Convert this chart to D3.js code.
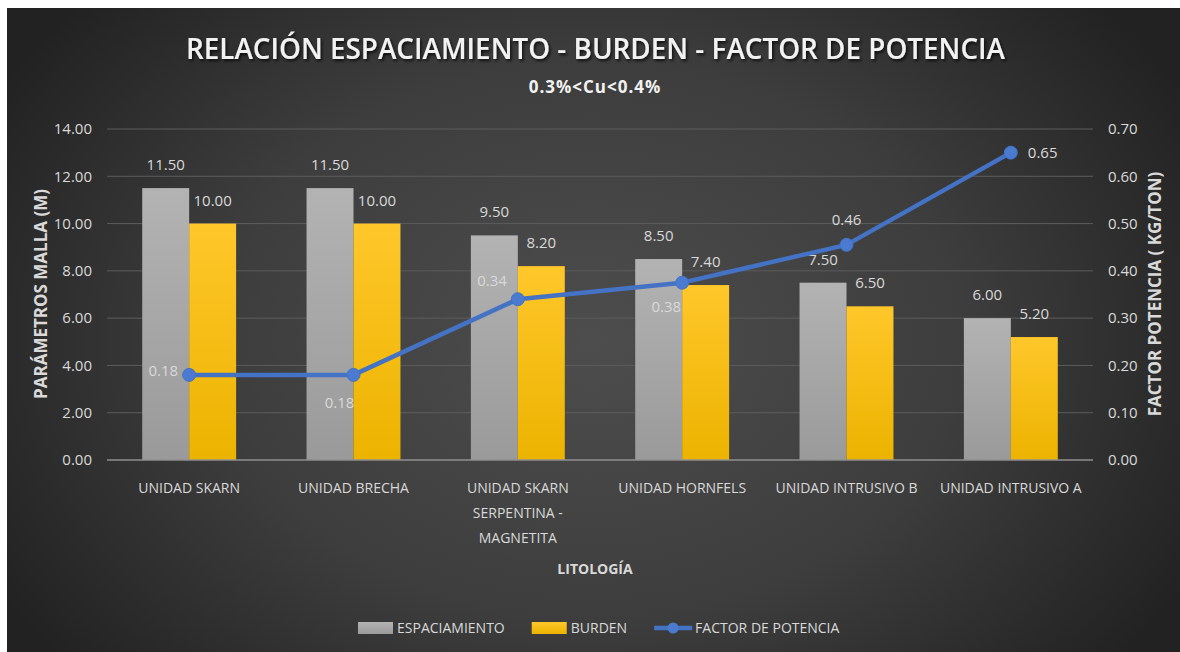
<!DOCTYPE html>
<html><head><meta charset="utf-8">
<script src="https://cdn.jsdelivr.net/npm/d3@7"></script>
<style>body{margin:0;background:#fff;overflow:hidden}</style>
</head><body>
<svg id="chart" width="1180" height="652"></svg>
<script>
// ---- data ----
const categories = ["UNIDAD SKARN", "UNIDAD BRECHA", "UNIDAD SKARN SERPENTINA - MAGNETITA", "UNIDAD HORNFELS", "UNIDAD INTRUSIVO B", "UNIDAD INTRUSIVO A"];
const espaciamiento = [11.5, 11.5, 9.5, 8.5, 7.5, 6.0];
const burden = [10.0, 10.0, 8.2, 7.4, 6.5, 5.2];
const factorPotencia = [0.18, 0.18, 0.34, 0.375, 0.455, 0.65];
const leftTicks = [0, 2, 4, 6, 8, 10, 12, 14];
const rightTicks = [0, 0.1, 0.2, 0.3, 0.4, 0.5, 0.6, 0.7];
const seriesNames = ["ESPACIAMIENTO", "BURDEN", "FACTOR DE POTENCIA"];
const titleText = "RELACIÓN ESPACIAMIENTO - BURDEN - FACTOR DE POTENCIA";
const subtitleText = "0.3%<Cu<0.4%";
const xTitle = "LITOLOGÍA";
const yLeftTitle = "PARÁMETROS MALLA (M)";
const yRightTitle = "FACTOR POTENCIA ( KG/TON)";
// label placement for the line's data labels (style)
const lineLabelPos = ["left", "below", "aboveLeft", "belowLeft", "above", "right"];

// ---- layout ----
const svg = d3.select("#chart");
const W = 1180, H = 652;
const plot = {left: 107, right: 1093, top: 129, bottom: 460};
const FONT = "'Open Sans', 'Liberation Sans', sans-serif";
const TXT = "#d9d9d9";

const defs = svg.append("defs");
const bg = defs.append("radialGradient").attr("id", "bg")
  .attr("gradientUnits", "userSpaceOnUse").attr("cx", 590).attr("cy", 340).attr("r", 680)
  .attr("gradientTransform", "translate(590,340) scale(1,0.75) translate(-590,-340)");
bg.append("stop").attr("offset", "0").attr("stop-color", "#4d4d4d");
bg.append("stop").attr("offset", "0.55").attr("stop-color", "#3d3d3d");
bg.append("stop").attr("offset", "1").attr("stop-color", "#222222");

const gGray = defs.append("linearGradient").attr("id", "gGray").attr("x1", 0).attr("y1", 0).attr("x2", 0).attr("y2", 1);
gGray.append("stop").attr("offset", "0").attr("stop-color", "#b3b3b3");
gGray.append("stop").attr("offset", "1").attr("stop-color", "#9a9a9a");
const gYel = defs.append("linearGradient").attr("id", "gYel").attr("x1", 0).attr("y1", 0).attr("x2", 0).attr("y2", 1);
gYel.append("stop").attr("offset", "0").attr("stop-color", "#ffc72a");
gYel.append("stop").attr("offset", "1").attr("stop-color", "#ecb300");

const sh = defs.append("filter").attr("id", "shadow").attr("x", "-5%").attr("y", "-30%").attr("width", "110%").attr("height", "160%");
sh.append("feDropShadow").attr("dx", 1.5).attr("dy", 2).attr("stdDeviation", 1.5).attr("flood-color", "#000").attr("flood-opacity", 0.75);

svg.append("rect").attr("x", 7).attr("y", 8).attr("width", W - 7).attr("height", H - 8).attr("fill", "url(#bg)");

// scales
const x = d3.scaleBand().domain(categories).range([plot.left, plot.right]).paddingInner(0).paddingOuter(0);
const x1 = d3.scaleBand().domain(seriesNames.slice(0, 2)).range([0, x.bandwidth()]).paddingInner(0).paddingOuter(0.75);
const yL = d3.scaleLinear().domain([0, 14]).range([plot.bottom, plot.top]);
const yR = d3.scaleLinear().domain([0, 0.7]).range([plot.bottom, plot.top]);

// gridlines
svg.append("g").selectAll("line").data(leftTicks.filter(d => d > 0)).join("line")
  .attr("x1", plot.left).attr("x2", plot.right)
  .attr("y1", d => yL(d)).attr("y2", d => yL(d))
  .attr("stroke", "#5c5c5c").attr("stroke-width", 1);

// left axis
const axL = svg.append("g").attr("transform", `translate(${plot.left},0)`)
  .call(d3.axisLeft(yL).tickValues(leftTicks).tickFormat(d3.format(".2f")).tickSize(0).tickPadding(15));
axL.select(".domain").remove();
axL.selectAll("text").attr("fill", TXT).attr("font-family", FONT).attr("font-size", 15);

// right axis
const axR = svg.append("g").attr("transform", `translate(${plot.right},0)`)
  .call(d3.axisRight(yR).tickValues(rightTicks).tickFormat(d3.format(".2f")).tickSize(0).tickPadding(15));
axR.select(".domain").remove();
axR.selectAll("text").attr("fill", TXT).attr("font-family", FONT).attr("font-size", 15);

// bars
const series = [
  {name: seriesNames[0], values: espaciamiento, fill: "url(#gGray)"},
  {name: seriesNames[1], values: burden, fill: "url(#gYel)"}
];
const barG = svg.append("g");
series.forEach(s => {
  barG.append("g").selectAll("rect").data(categories).join("rect")
    .attr("x", (c) => x(c) + x1(s.name))
    .attr("width", x1.bandwidth())
    .attr("y", (c, i) => yL(s.values[i]))
    .attr("height", (c, i) => yL(0) - yL(s.values[i]))
    .attr("fill", s.fill);
  barG.append("g").selectAll("text").data(categories).join("text")
    .attr("x", (c) => x(c) + x1(s.name) + x1.bandwidth() / 2)
    .attr("y", (c, i) => yL(s.values[i]) - 18)
    .attr("text-anchor", "middle")
    .attr("fill", TXT).attr("font-family", FONT).attr("font-size", 15)
    .text((c, i) => s.values[i].toFixed(2));
});

// baseline
svg.append("line").attr("x1", plot.left).attr("x2", plot.right)
  .attr("y1", yL(0)).attr("y2", yL(0)).attr("stroke", "#8f8f8f").attr("stroke-width", 1.5);

// category labels (wrapped)
function wrap(text, maxW) {
  const words = text.split(" ");
  const lines = [];
  let cur = "";
  const meas = svg.append("text").attr("font-family", FONT).attr("font-size", 14);
  words.forEach(w => {
    const t = cur ? cur + " " + w : w;
    meas.text(t);
    if (meas.node().getComputedTextLength() > maxW && cur) { lines.push(cur); cur = w; }
    else cur = t;
  });
  if (cur) lines.push(cur);
  meas.remove();
  return lines;
}
const catG = svg.append("g");
categories.forEach(c => {
  const lines = wrap(c, 150);
  const t = catG.append("text").attr("text-anchor", "middle")
    .attr("fill", TXT).attr("font-family", FONT).attr("font-size", 14);
  lines.forEach((ln, k) => {
    t.append("tspan").attr("x", x(c) + x.bandwidth() / 2).attr("y", 493 + k * 25).text(ln);
  });
});

// line series
const cx = (c) => x(c) + x.bandwidth() / 2;
const line = d3.line().x((d, i) => cx(categories[i])).y(d => yR(d));
svg.append("path").datum(factorPotencia).attr("d", line)
  .attr("fill", "none").attr("stroke", "#4472c4").attr("stroke-width", 4.5).attr("stroke-linejoin", "round");
svg.append("g").selectAll("circle").data(factorPotencia).join("circle")
  .attr("cx", (d, i) => cx(categories[i])).attr("cy", d => yR(d)).attr("r", 6.5)
  .attr("fill", "#4a7bd0").attr("stroke", "#4472c4").attr("stroke-width", 1);

const posStyle = {
  left: {dx: -11, dy: 1, anchor: "end"},
  aboveLeft: {dx: -11, dy: -13, anchor: "end"},
  below: {dx: -14, dy: 33, anchor: "middle"},
  belowLeft: {dx: -1, dy: 29, anchor: "end"},
  above: {dx: 0, dy: -20, anchor: "middle"},
  right: {dx: 17, dy: 5, anchor: "start"}
};
svg.append("g").selectAll("text").data(factorPotencia).join("text")
  .each(function(d, i) {
    const p = posStyle[lineLabelPos[i]];
    d3.select(this).attr("x", cx(categories[i]) + p.dx).attr("y", yR(d) + p.dy).attr("text-anchor", p.anchor);
  })
  .attr("fill", TXT).attr("font-family", FONT).attr("font-size", 15)
  .text(d => d.toFixed(2));

// titles
svg.append("text").attr("x", 595.5).attr("y", 59).attr("text-anchor", "middle")
  .attr("font-family", FONT).attr("font-weight", 600).attr("font-size", 29)
  .attr("fill", "#f2f2f2").attr("filter", "url(#shadow)")
  .attr("textLength", 819).attr("lengthAdjust", "spacingAndGlyphs")
  .text(titleText);
svg.append("text").attr("x", 595).attr("y", 93).attr("text-anchor", "middle")
  .attr("font-family", FONT).attr("font-weight", 700).attr("font-size", 17)
  .attr("letter-spacing", 1)
  .attr("fill", "#f2f2f2").text(subtitleText);

svg.append("text").attr("x", 595).attr("y", 574).attr("text-anchor", "middle")
  .attr("font-family", FONT).attr("font-weight", 700).attr("font-size", 14)
  .attr("fill", TXT).text(xTitle);
svg.append("text").attr("transform", "translate(47,294) rotate(-90)").attr("text-anchor", "middle")
  .attr("font-family", FONT).attr("font-weight", 700).attr("font-size", 17)
  .attr("fill", TXT).text(yLeftTitle);
svg.append("text").attr("transform", "translate(1161,294) rotate(-90)").attr("text-anchor", "middle")
  .attr("font-family", FONT).attr("font-weight", 700).attr("font-size", 17)
  .attr("fill", TXT).text(yRightTitle);

// legend
const leg = svg.append("g");
const legY = 628;
let lx = 358;
[{type: "rect", fill: "url(#gGray)"}, {type: "rect", fill: "url(#gYel)"}, {type: "line"}].forEach((it, i) => {
  if (it.type === "rect") {
    leg.append("rect").attr("x", lx).attr("y", legY - 6).attr("width", 35).attr("height", 12).attr("fill", it.fill);
    lx += 39;
  } else {
    leg.append("line").attr("x1", lx).attr("x2", lx + 38).attr("y1", legY).attr("y2", legY)
      .attr("stroke", "#4472c4").attr("stroke-width", 4.5);
    leg.append("circle").attr("cx", lx + 19).attr("cy", legY).attr("r", 5.5).attr("fill", "#4a7bd0");
    lx += 41;
  }
  const t = leg.append("text").attr("x", lx).attr("y", legY + 5)
    .attr("fill", TXT).attr("font-family", FONT).attr("font-size", 14).text(seriesNames[i]);
  lx += t.node().getComputedTextLength() + 27;
});
</script>
</body></html>
